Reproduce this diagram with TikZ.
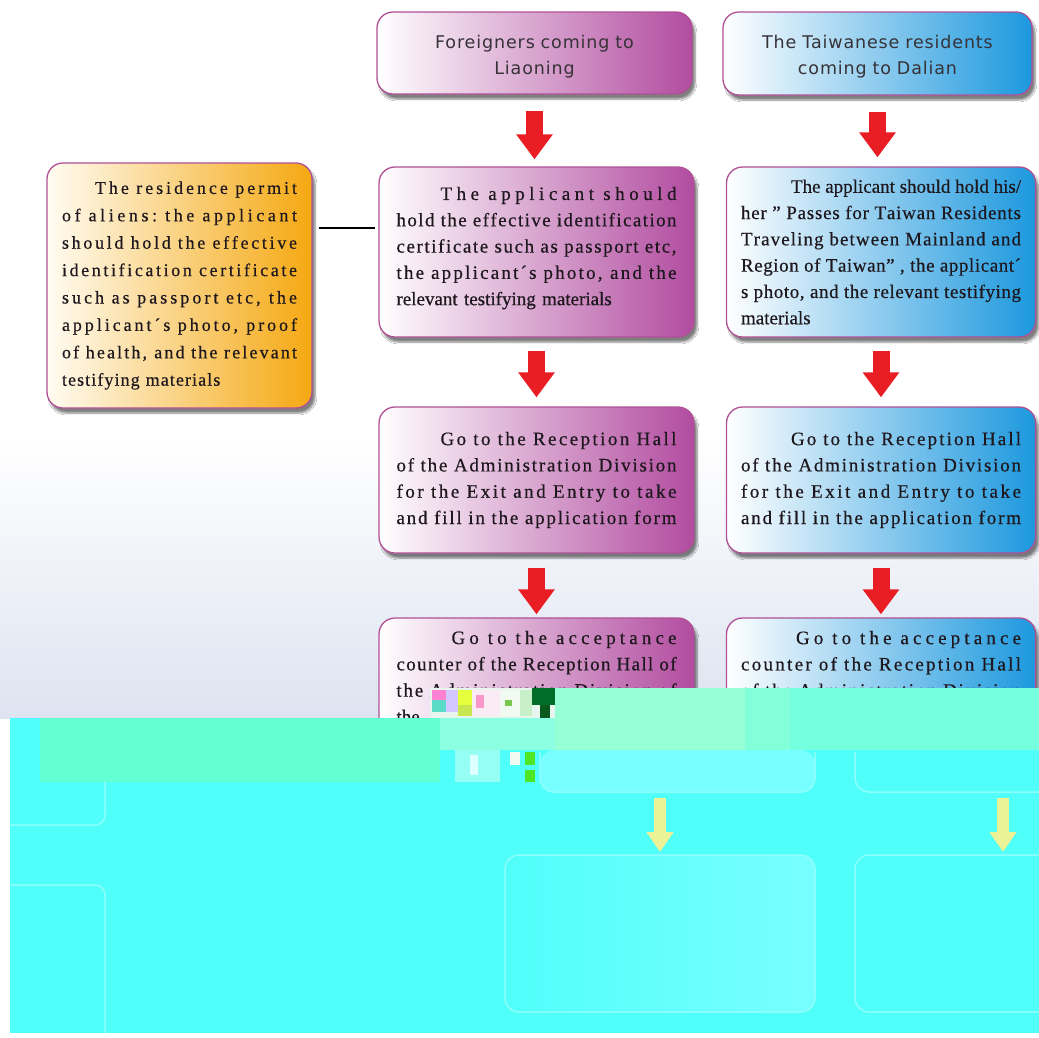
\documentclass[tikz,border=0pt]{standalone}
\usepackage{fontspec}
\setmainfont[FakeBold=0.5]{Liberation Serif}
\newfontfamily\spacedfont[LetterSpace=6,FakeBold=0.5]{Liberation Serif}
\newfontfamily\topfont[WordSpace=2.6,LetterSpace=5]{DejaVu Sans}
\usetikzlibrary{arrows.meta,shadows.blur,calc}

\definecolor{pcol}{RGB}{178,76,160}
\definecolor{bcol}{RGB}{28,152,222}
\definecolor{ocol}{RGB}{245,168,18}
\definecolor{ostart}{RGB}{255,252,242}
\definecolor{edgecol}{RGB}{176,80,150}
\definecolor{arrowred}{RGB}{232,30,36}
\definecolor{ink}{RGB}{30,24,30}
\definecolor{topink}{RGB}{55,50,55}
\definecolor{bgbottom}{RGB}{221,227,240}
\definecolor{gcyan}{RGB}{80,255,250}
\definecolor{gmintA}{RGB}{100,255,210}
\definecolor{gmintB}{RGB}{150,255,212}
\definecolor{gmintC}{RGB}{130,255,216}
\definecolor{gmintD}{RGB}{118,255,222}
\definecolor{gmintE}{RGB}{140,255,226}
\definecolor{gfaint}{RGB}{140,255,252}
\definecolor{glight}{RGB}{120,255,255}
\definecolor{gyellow}{RGB}{236,242,150}
\definecolor{gz0}{RGB}{232,245,238}
\definecolor{gz1}{RGB}{255,130,210}
\definecolor{gz2}{RGB}{90,220,200}
\definecolor{gz3}{RGB}{210,200,255}
\definecolor{gz4}{RGB}{230,255,60}
\definecolor{gz5}{RGB}{200,230,80}
\definecolor{gz6}{RGB}{250,235,245}
\definecolor{gz7}{RGB}{250,150,200}
\definecolor{gz8}{RGB}{240,250,240}
\definecolor{gz9}{RGB}{120,200,80}
\definecolor{gz10}{RGB}{200,240,200}
\definecolor{gz11}{RGB}{0,110,40}
\definecolor{gz12}{RGB}{10,90,30}
\definecolor{gz13}{RGB}{150,255,245}
\definecolor{gz14}{RGB}{220,255,255}
\definecolor{gz15}{RGB}{80,230,40}

% distributed justification: extra space between letters as well as words
\newXeTeXintercharclass\ltrclass
\newcount\cc
\cc=`a \loop \XeTeXcharclass\cc=\ltrclass \ifnum\cc<`z \advance\cc 1 \repeat
\cc=`A \loop \XeTeXcharclass\cc=\ltrclass \ifnum\cc<`Z \advance\cc 1 \repeat
\XeTeXcharclass`\,=\ltrclass
\XeTeXcharclass`\.=\ltrclass
\XeTeXcharclass`\:=\ltrclass
\XeTeXcharclass`\/=\ltrclass
\XeTeXcharclass"00B4=\ltrclass
\XeTeXcharclass"201D=\ltrclass
\XeTeXinterchartoks\ltrclass\ltrclass={\hskip 0pt plus 1fil\relax}

\newdimen\tw
\newcommand\sps{\XeTeXinterchartokenstate=1 \spaceskip=0.25em plus 1fil\relax\xspaceskip=\spaceskip}
\newcommand\fl[2]{\hspace*{#1}\makebox[\dimexpr\tw-#1\relax][s]{\sps #2}}
\newcommand\jl[1]{\makebox[\tw][s]{\sps #1}}

\tikzset{
  box/.style={rounded corners=16pt, draw=edgecol, line width=1.3pt, inner sep=0pt,
    text=ink, align=left,
    blur shadow={shadow xshift=3pt, shadow yshift=-5pt, shadow blur steps=6, shadow opacity=50}},
  purplebox/.style={box, left color=white, right color=pcol},
  bluebox/.style={box, left color=white, right color=bcol},
  orangebox/.style={box, left color=ostart, right color=ocol},
  bodytext/.style={font=\fontsize{19}{26.3}\selectfont},
  toptext/.style={font=\topfont\fontsize{17.5}{26}\selectfont, align=center, text=topink},
  flowarrow/.style={draw=arrowred, line width=17pt, -{Triangle[width=35pt,length=25pt]}},
  linkline/.style={draw=black, line width=2pt},
  faint/.style={draw=gfaint, line width=1.5pt},
  glitcharrow/.style={draw=gyellow, line width=12pt, -{Triangle[width=26pt,length=20pt]}},
}

\begin{document}
\begin{tikzpicture}[x=1pt,y=-1pt]
\useasboundingbox (0,0) rectangle (1039,1037);
\fill[white] (0,0) rectangle (1039,1037);
\shade[top color=white, bottom color=bgbottom] (0,440) rectangle (1039,718);

% top row
\node[purplebox, toptext, minimum width=315pt, minimum height=82pt, text width=300pt] (A) at (534.5,53)
  {\rule{0pt}{20pt}Foreigners coming to\\Liaoning};
\node[bluebox, toptext, minimum width=309pt, minimum height=83pt, text width=295pt] (B) at (877.5,53.5)
  {\rule{0pt}{20pt}The Taiwanese residents\\coming to Dalian};

% left box
\node[orangebox, font=\spacedfont\fontsize{18}{27.4}\selectfont, minimum width=265pt, minimum height=245pt, text width=235pt] (E) at (179.5,285.5)
  {\tw=235pt\relax
   \fl{33pt}{The residence permit}\\
   \jl{of aliens: the applicant}\\
   \jl{should hold the effective}\\
   \jl{identification certificate}\\
   \jl{such as passport etc, the}\\
   \jl{applicant´s photo, proof}\\
   \jl{of health, and the relevant}\\
   testifying materials};

% second row
\node[purplebox, bodytext, minimum width=315pt, minimum height=170pt, text width=280pt] (C) at (536.5,252)
  {\tw=280pt\relax
   \fl{44pt}{The applicant should}\\
   \jl{hold the effective identification}\\
   \jl{certificate such as passport etc,}\\
   \jl{the applicant´s photo, and the}\\
   relevant testifying materials\rule[-12pt]{0pt}{12pt}};
\node[bluebox, bodytext, minimum width=309pt, minimum height=170pt, text width=280pt] (D) at (881,252)
  {\tw=280pt\relax
   \fl{50pt}{The applicant should hold his/}\\
   \jl{her ” Passes for Taiwan Residents}\\
   \jl{Traveling between Mainland and}\\
   \jl{Region of Taiwan” , the applicant´}\\
   \jl{s photo, and the relevant testifying}\\
   materials};

% third row
\node[purplebox, bodytext, minimum width=315pt, minimum height=146pt, text width=280pt] (F) at (536.5,480)
  {\tw=280pt\relax
   \fl{44pt}{Go to the Reception Hall}\\
   \jl{of the Administration Division}\\
   \jl{for the Exit and Entry to take}\\
   \jl{and fill in the application form}};
\node[bluebox, bodytext, minimum width=309pt, minimum height=146pt, text width=280pt] (G) at (881,480)
  {\tw=280pt\relax
   \fl{50pt}{Go to the Reception Hall}\\
   \jl{of the Administration Division}\\
   \jl{for the Exit and Entry to take}\\
   \jl{and fill in the application form}};

% fourth row
\node[purplebox, bodytext, minimum width=315pt, minimum height=118pt, text width=280pt] (H) at (536.5,677)
  {\tw=280pt\relax
   \fl{55pt}{Go to the acceptance}\\
   \jl{counter of the Reception Hall of}\\
   \jl{the Administration Division of}\\
   the};
\node[bluebox, bodytext, minimum width=309pt, minimum height=118pt, text width=280pt] (I) at (881,677)
  {\tw=280pt\relax
   \fl{55pt}{Go to the acceptance}\\
   \jl{counter of the Reception Hall}\\
   \jl{of the Administration Division}\\
   \mbox{}};

% connectors
\draw[flowarrow, shorten <=16pt, shorten >=7pt] (A) -- (A |- C.north);
\draw[flowarrow, shorten <=13pt, shorten >=9pt] (C) -- (F);
\draw[flowarrow, shorten <=14pt, shorten >=3pt] (F) -- (H);
\draw[flowarrow, shorten <=16pt, shorten >=9pt] (B) -- (B |- D.north);
\draw[flowarrow, shorten <=13pt, shorten >=9pt] (D) -- (G);
\draw[flowarrow, shorten <=14pt, shorten >=3pt] (G) -- (I);
\coordinate (linkY) at (0,228);
\draw[linkline, shorten <=6pt, shorten >=3pt] (E.east |- linkY) -- (C.west |- linkY);

% corrupted lower part of the picture
\fill[gcyan] (10,718) rectangle (1039,1033);
\fill[gmintA] (40,718) rectangle (440,782);
\fill[gmintB] (555,688) rectangle (745,750);
\fill[gmintC] (745,688) rectangle (790,750);
\fill[gmintD] (790,688) rectangle (1039,750);
\fill[gmintE] (440,718) rectangle (555,750);
% garbled pixels
\fill[gz0] (430,688) rectangle (555,718);
\fill[gz1] (432,690) rectangle (446,700);
\fill[gz2] (432,700) rectangle (446,712);
\fill[gz3] (446,690) rectangle (458,712);
\fill[gz4] (458,690) rectangle (472,705);
\fill[gz5] (458,705) rectangle (472,716);
\fill[gz6] (472,690) rectangle (500,716);
\fill[gz7] (476,695) rectangle (484,708);
\fill[gz8] (500,690) rectangle (520,716);
\fill[gz9] (505,700) rectangle (512,706);
\fill[gz10] (520,690) rectangle (532,716);
\fill[gz11] (532,688) rectangle (555,705);
\fill[gz12] (540,705) rectangle (550,718);
\fill[gz13] (455,750) rectangle (500,782);
\fill[gz14] (470,755) rectangle (478,775);
\fill[gz8] (510,752) rectangle (520,765);
\fill[gz15] (525,752) rectangle (535,765);
\fill[gz15] (525,770) rectangle (535,782);
% faint ghost boxes
\fill[glight, rounded corners=14pt] (540,750) -- (540,792) -- (815,792) -- (815,750) -- cycle;
\draw[faint, rounded corners=14pt] (540,752) -- (540,792) -- (815,792) -- (815,752);
\draw[faint, rounded corners=14pt] (855,752) -- (855,792) -- (1039,792);
\shade[left color=gcyan, right color=glight, rounded corners=14pt] (505,855) rectangle (815,1012);
\draw[faint, rounded corners=14pt] (505,855) rectangle (815,1012);
\draw[faint, rounded corners=14pt] (1039,855) -- (855,855) -- (855,1012) -- (1039,1012);
\draw[faint, rounded corners=10pt] (10,825) -- (105,825) -- (105,782);
\draw[faint, rounded corners=10pt] (10,885) -- (105,885) -- (105,1033);
\coordinate (ya1) at (660,798);
\coordinate (yb1) at (660,852);
\coordinate (ya2) at (1003,798);
\coordinate (yb2) at (1003,852);
\draw[glitcharrow] (ya1) -- (yb1);
\draw[glitcharrow] (ya2) -- (yb2);
\end{tikzpicture}
\end{document}
